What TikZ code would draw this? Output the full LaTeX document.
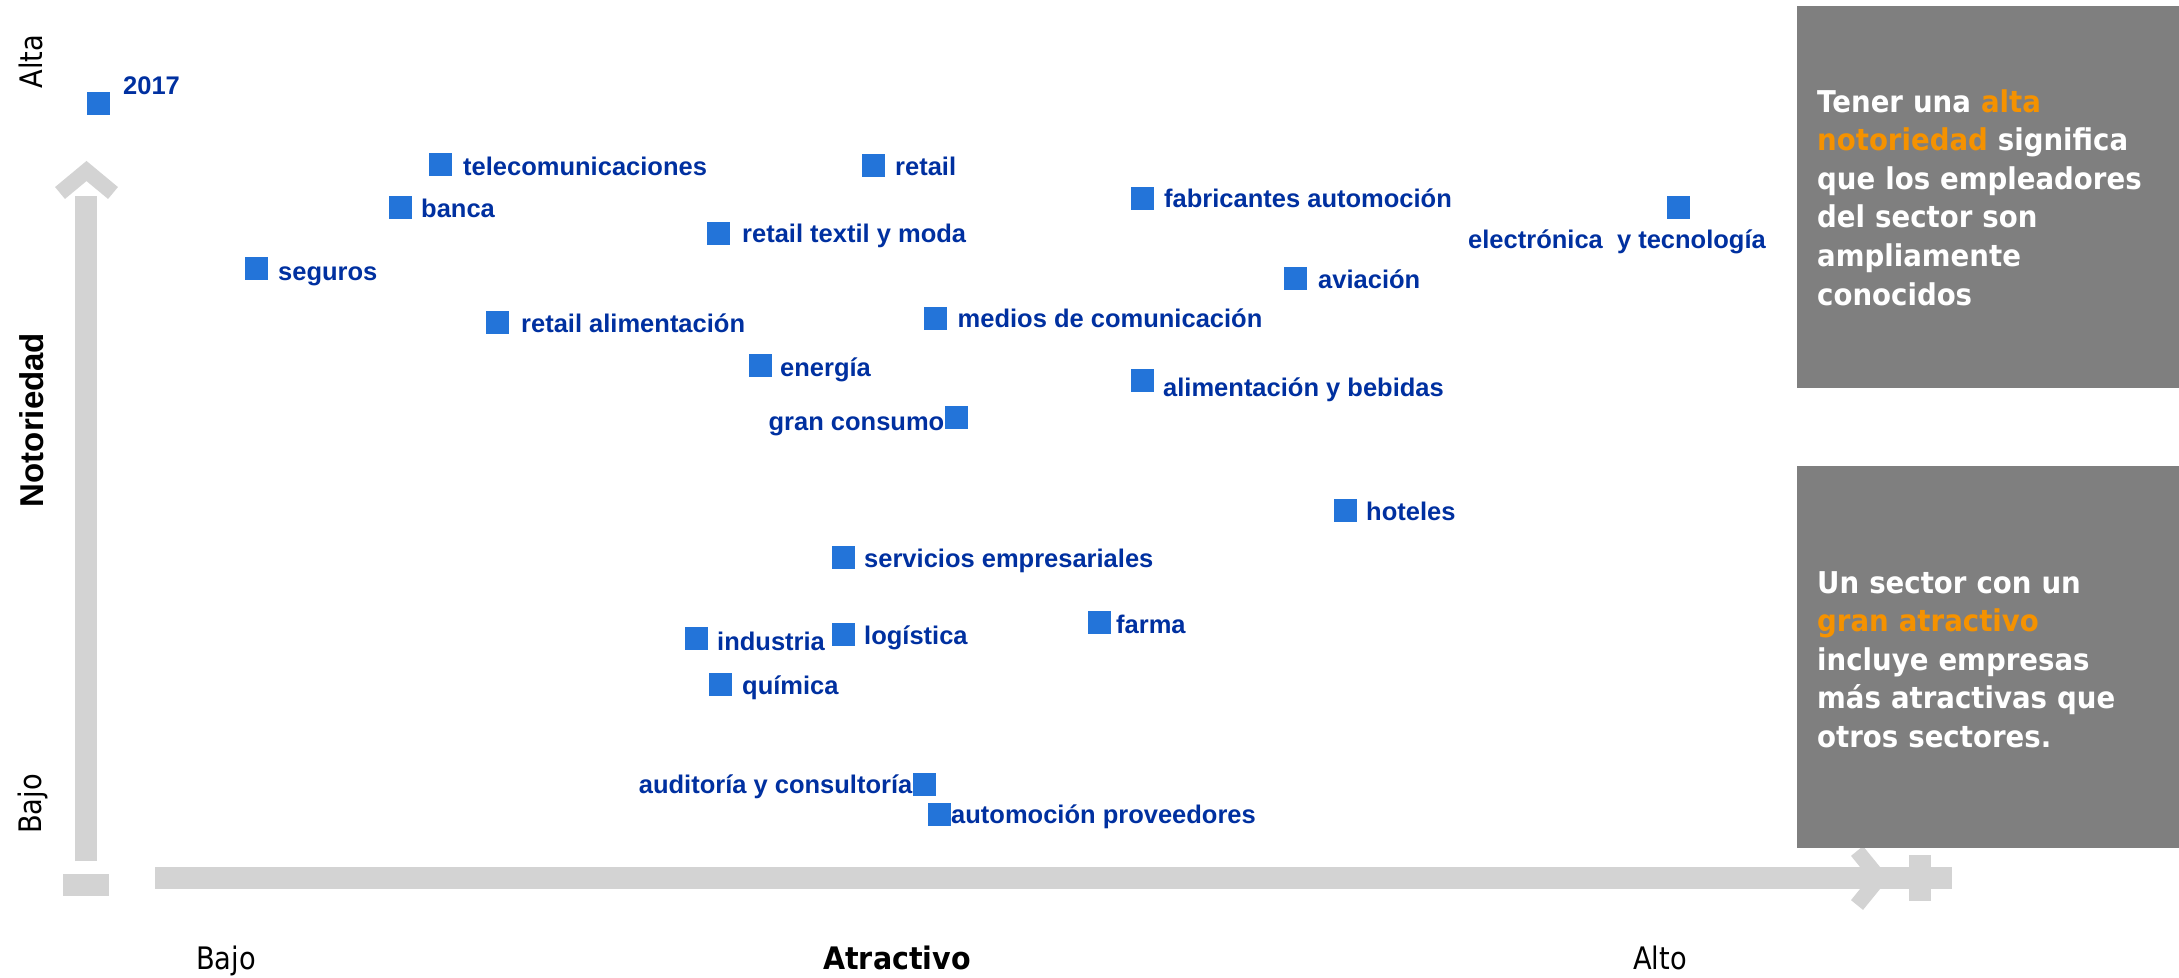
\documentclass[tikz,border=0pt]{standalone}
\usepackage{fontspec}
\newfontfamily\arialfont{Liberation Sans}
\newfontfamily\tahreg[FakeStretch=0.88]{DejaVu Sans}
\newfontfamily\tahbold[FakeStretch=0.92]{DejaVu Sans}
\definecolor{axisgray}{RGB}{211,211,211}
\definecolor{boxgray}{RGB}{127,127,127}
\definecolor{lblblue}{RGB}{0,48,160}
\definecolor{sqblue}{RGB}{35,116,217}
\definecolor{hiorange}{RGB}{245,146,0}
\newcommand\hlo[1]{\textcolor{hiorange}{#1}}
\tikzset{
  sq/.style={fill=sqblue, draw=none, minimum size=23bp, inner sep=0pt, outer sep=0pt},
  lbl/.style={text=lblblue, font=\arialfont\bfseries\fontsize{25.5bp}{30bp}\selectfont, inner sep=0pt},
  shaft/.style={draw=axisgray, line width=22bp, line cap=butt},
  chev/.style={draw=axisgray, line width=15.5bp, line cap=butt, line join=miter},
  axlbl/.style={text=black, font=\tahreg\fontsize{31bp}{36bp}\selectfont, inner sep=0pt},
  axtitle/.style={text=black, font=\arialfont\bfseries\fontsize{33bp}{38bp}\selectfont, inner sep=0pt},
  axtitleb/.style={text=black, font=\tahbold\bfseries\fontsize{31bp}{36bp}\selectfont, inner sep=0pt},
  infobox/.style={fill=boxgray, draw=none, minimum width=382bp, minimum height=382bp, inner sep=0pt, anchor=north west},
  boxtxt/.style={text=white, font=\tahbold\bfseries\fontsize{30bp}{38.6bp}\selectfont, text width=360bp, align=left, inner sep=0pt, anchor=base west}
}
\begin{document}
\begin{tikzpicture}[x=1bp,y=-1bp]
\useasboundingbox (0,0) rectangle (2179,977);

% axes
\coordinate (vbot) at (86,861);
\coordinate (vtop) at (86,196);
\draw[shaft] (vbot) -- (vtop);
\coordinate (vcl) at (60,193);
\coordinate (vca) at (86.5,171);
\coordinate (vcr) at (113,193);
\draw[chev] (vcl) -- (vca) -- (vcr);
\fill[axisgray] (63,874) rectangle (109,896);

\coordinate (hleft) at (155,878);
\coordinate (hright) at (1952,878);
\draw[shaft] (hleft) -- (hright);
\coordinate (hct) at (1857,851);
\coordinate (hca) at (1879,878);
\coordinate (hcb) at (1857,905);
\draw[chev] (hct) -- (hca) -- (hcb);
\fill[axisgray] (1909,855) rectangle (1931,901);

% info boxes
\node[infobox] (box1) at (1797,6) {};
\node[infobox] (box2) at (1797,466) {};
\node[boxtxt] (txt1) at (1817,112) {Tener una \hlo{alta}\\ \hlo{notoriedad} significa\\ que los empleadores\\ del sector son\\ ampliamente\\ conocidos};
\node[boxtxt] (txt2) at (1817,593) {Un sector con un\\ \hlo{gran atractivo}\\ incluye empresas\\ más atractivas que\\ otros sectores.};

% axis labels
\node[axlbl, rotate=90, anchor=base] (alta) at (42,61.5) {Alta};
\node[axlbl, rotate=90, anchor=base] (bajov) at (41,804) {Bajo};
\node[axtitle, rotate=90, anchor=base] (notor) at (43,420) {Notoriedad};
\node[axlbl, anchor=base west] (bajoh) at (196,969) {Bajo};
\node[axlbl, anchor=base] (alto) at (1660,969) {Alto};
\node[axtitleb, anchor=base] (atrac) at (897,969) {Atractivo};

% data points
\node[sq] (s1) at (98.5,103.5) {};
\node[lbl, anchor=base west] (l1) at (123,94) {2017};
\node[sq] (s2) at (440.5,164) {};
\node[lbl, anchor=base west] (l2) at (463,175) {telecomunicaciones};
\node[sq] (s3) at (400,207) {};
\node[lbl, anchor=base west] (l3) at (421,217.5) {banca};
\node[sq] (s4) at (256,268) {};
\node[lbl, anchor=base west] (l4) at (278,280) {seguros};
\node[sq] (s5) at (497.5,322) {};
\node[lbl, anchor=base west] (l5) at (521,332.5) {retail alimentación};
\node[sq] (s6) at (873,165) {};
\node[lbl, anchor=base west] (l6) at (895,175.5) {retail};
\node[sq] (s7) at (718.5,233.5) {};
\node[lbl, anchor=base west] (l7) at (742,242.5) {retail textil y moda};
\node[sq] (s8) at (760,365.5) {};
\node[lbl, anchor=base west] (l8) at (780,376) {energía};
\node[sq] (s9) at (935,318) {};
\node[lbl, anchor=base west] (l9) at (957.5,327) {medios de comunicación};
\node[sq] (s10) at (956,417) {};
\node[lbl, anchor=base east] (l10) at (944.5,430) {gran consumo};
\node[sq] (s11) at (1142.5,198) {};
\node[lbl, anchor=base west] (l11) at (1164,207) {fabricantes automoción};
\node[sq] (s12) at (1295.5,278) {};
\node[lbl, anchor=base west] (l12) at (1318,288) {aviación};
\node[sq] (s13) at (1142.5,380.5) {};
\node[lbl, anchor=base west] (l13) at (1163,396) {alimentación y bebidas};
\node[sq] (s14) at (1678.5,207.5) {};
\node[lbl, anchor=base west] (l14) at (1468,248) {electrónica\ \ y tecnología};
\node[sq] (s15) at (1345,510) {};
\node[lbl, anchor=base west] (l15) at (1366,520.5) {hoteles};
\node[sq] (s16) at (843.5,557) {};
\node[lbl, anchor=base west] (l16) at (864,567.5) {servicios empresariales};
\node[sq] (s17) at (696,638) {};
\node[lbl, anchor=base west] (l17) at (717,650) {industria};
\node[sq] (s18) at (843.5,634) {};
\node[lbl, anchor=base west] (l18) at (864,644.5) {logística};
\node[sq] (s19) at (1099,622.5) {};
\node[lbl, anchor=base west] (l19) at (1116,633) {farma};
\node[sq] (s20) at (720,684) {};
\node[lbl, anchor=base west] (l20) at (742,694.5) {química};
\node[sq] (s21) at (924,784) {};
\node[lbl, anchor=base east] (l21) at (912.5,793) {auditoría y consultoría};
\node[sq] (s22) at (939.5,814) {};
\node[lbl, anchor=base west] (l22) at (951,823) {automoción proveedores};
\end{tikzpicture}
\end{document}
